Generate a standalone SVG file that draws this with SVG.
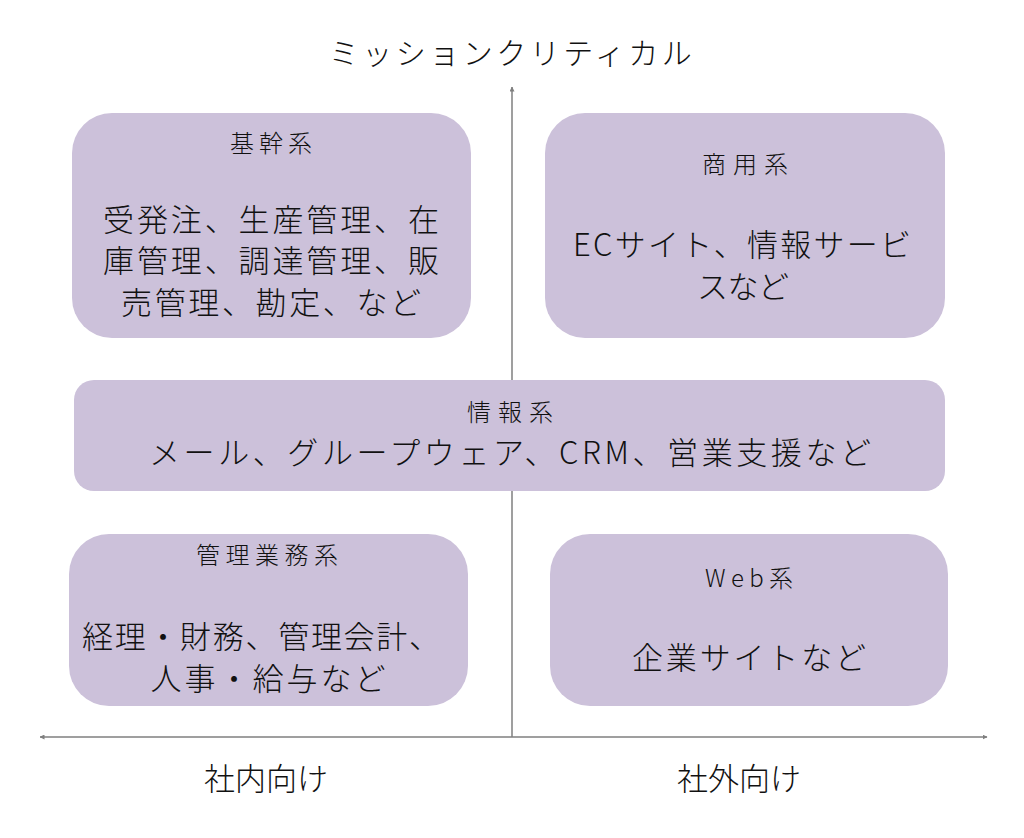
<svg xmlns="http://www.w3.org/2000/svg" width="1024" height="838" viewBox="0 0 1024 838">
<style>
text{font-family:"Noto Sans CJK JP","Noto Sans",sans-serif;font-weight:300;fill:#111;text-anchor:middle}
.box{fill:#CCC1DA}
.t{font-size:24px}
.b{font-size:31px}
.ax{stroke:#7f7f7f;stroke-width:1.5;fill:none}
</style>
<defs>
<marker id="ah" viewBox="0 0 10 10" refX="9" refY="5" markerWidth="5" markerHeight="5" orient="auto" markerUnits="userSpaceOnUse"><path d="M0,0L10,5L0,10z" fill="#7f7f7f"/></marker>
</defs>
<rect width="1024" height="838" fill="#fff"/>
<g id="connectors">
<line class="ax" x1="512" y1="737" x2="512" y2="87" marker-end="url(#ah)"/>
<line class="ax" x1="512" y1="737" x2="40" y2="737" marker-end="url(#ah)"/>
<line class="ax" x1="512" y1="737" x2="987" y2="737" marker-end="url(#ah)"/>
</g>
<g id="axis-labels">
<text x="512" y="64" font-size="30" letter-spacing="3.5">ミッションクリティカル</text>
<text x="266" y="790" font-size="31">社内向け</text>
<text x="739" y="790" font-size="31">社外向け</text>
</g>
<g id="kikan">
<rect class="box" x="72" y="113" width="399" height="225" rx="40"/>
<text class="t" x="271" y="152" textLength="82">基幹系</text>
<text class="b"><tspan x="271" y="231" textLength="336">受発注、生産管理、在</tspan><tspan x="271" y="272" textLength="336">庫管理、調達管理、販</tspan><tspan x="271" y="314" textLength="300">売管理、勘定、など</tspan></text>
</g>
<g id="shoyo">
<rect class="box" x="545" y="113" width="400" height="225" rx="40"/>
<text class="t" x="745" y="173" textLength="86">商用系</text>
<text class="b"><tspan x="742" y="256" textLength="338">ECサイト、情報サービ</tspan><tspan x="743" y="298" textLength="92">スなど</tspan></text>
</g>
<g id="joho">
<rect class="box" x="74" y="380" width="871" height="111" rx="20"/>
<text class="t" x="510" y="421" textLength="86">情報系</text>
<text class="b" x="510" y="464" textLength="722">メール、グループウェア、CRM、営業支援など</text>
</g>
<g id="kanri">
<rect class="box" x="69" y="534" width="399" height="172" rx="40"/>
<text class="t" x="267" y="564" textLength="142">管理業務系</text>
<text class="b"><tspan x="261" y="648" textLength="358">経理・財務、管理会計、</tspan><tspan x="268" y="690" textLength="235">人事・給与など</tspan></text>
</g>
<g id="web">
<rect class="box" x="550" y="534" width="398" height="172" rx="40"/>
<text class="t" x="749" y="587" textLength="88">Web系</text>
<text class="b" x="749" y="669" textLength="234">企業サイトなど</text>
</g>
</svg>
